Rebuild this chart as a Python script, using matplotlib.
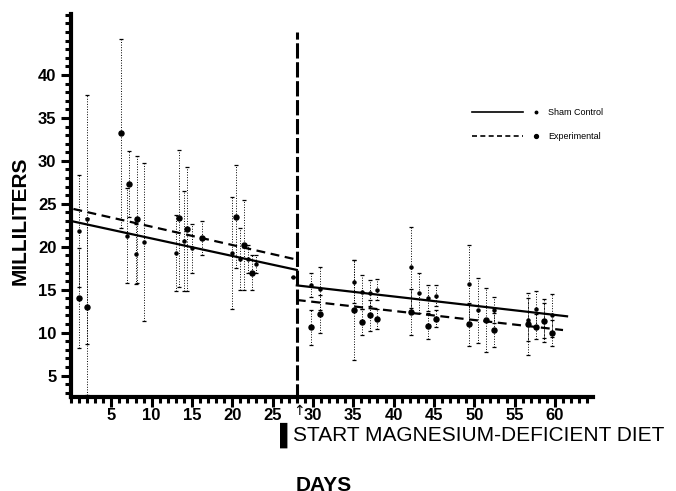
import numpy as np
import matplotlib.pyplot as plt
from matplotlib.ticker import MultipleLocator, FixedLocator

plt.rcParams['font.family'] = ['Liberation Sans', 'DejaVu Sans']

# sham control (small dots, solid fit)
ctrl_days = [1, 2, 7, 8, 9, 13, 14, 15, 20, 21, 22, 23, 27.5,
             29.8, 30.9, 35.1, 36.1, 37.1, 38.0, 42.2, 43.2, 44.3, 45.3,
             49.3, 50.4, 52.5, 56.7, 57.7, 58.7, 59.6]
ctrl_mean = [21.8, 23.2, 21.3, 19.2, 20.6, 19.3, 20.7, 19.8, 19.3, 18.6, 18.6, 18.0, 16.5,
             15.5, 15.1, 15.9, 14.7, 14.6, 15.0, 17.6, 14.6, 14.0, 14.3,
             15.7, 12.6, 12.6, 11.5, 12.7, 11.4, 12.0]
ctrl_err = [6.5, 14.5, 5.5, 3.5, 9.2, 4.4, 5.8, 2.9, 6.5, 3.6, 1.6, 1.0, 0.0,
            1.4, 2.5, 2.5, 2.0, 1.5, 1.2, 4.7, 2.3, 1.5, 1.2,
            4.5, 3.8, 1.5, 2.5, 2.2, 2.0, 2.5]

# experimental (larger dots, dashed fit)
exp_days = [1, 2, 6.2, 7.2, 8.2, 13.4, 14.4, 16.3, 20.5, 21.4, 22.4,
            29.8, 30.9, 35.1, 36.1, 37.1, 38.0, 42.2, 44.3, 45.3,
            49.3, 51.4, 52.5, 56.7, 57.7, 58.7, 59.6]
exp_mean = [14.0, 13.0, 33.2, 27.3, 23.2, 23.3, 22.1, 21.0, 23.5, 20.2, 17.0,
            10.6, 12.2, 12.6, 11.2, 12.0, 11.6, 12.4, 10.8, 11.6,
            11.0, 11.5, 10.3, 11.0, 10.7, 11.4, 10.0]
exp_err = [5.8, 10.3, 11.0, 3.8, 7.4, 8.0, 7.2, 2.0, 6.0, 5.2, 2.0,
           2.0, 2.2, 5.8, 1.5, 1.8, 1.2, 2.7, 1.5, 1.0,
           2.5, 3.7, 2.0, 3.6, 1.5, 2.5, 1.5]

# fitted lines, before and after diet start
ctrl_fit_x = [[0, 28], [28, 61.5]]
ctrl_fit_y = [[23.0, 17.3], [15.5, 11.9]]
exp_fit_x = [[0.3, 28], [28, 61]]
exp_fit_y = [[24.4, 18.5], [13.8, 10.3]]

diet_start = 28

fig = plt.figure(figsize=(6.76, 4.91), dpi=100)
ax = fig.add_axes([0.105, 0.1914, 0.772, 0.78])

for d, m, e, ms in [(ctrl_days, ctrl_mean, ctrl_err, 2.2), (exp_days, exp_mean, exp_err, 3.6)]:
    eb = ax.errorbar(d, m, yerr=e, fmt='o', color='black', ms=ms,
                     elinewidth=0.7, capsize=1.5, capthick=0.9)
    eb[2][0].set_linestyle(':')

for xs, ys in zip(ctrl_fit_x, ctrl_fit_y):
    ax.plot(xs, ys, color='black', lw=1.6)
for xs, ys in zip(exp_fit_x, exp_fit_y):
    ax.plot(xs, ys, color='black', lw=1.6, ls=(0, (4, 2.5)))

ax.plot([diet_start, diet_start], [0, 45], color='black', lw=2.2, ls=(0, (5, 1.2)))

ax.set_xlim(0, 64.7)
ax.set_ylim(2.5, 47.1)
for s in ['top', 'right']:
    ax.spines[s].set_visible(False)
for s in ['left', 'bottom']:
    ax.spines[s].set_linewidth(3)

ax.xaxis.set_major_locator(FixedLocator(range(5, 61, 5)))
ax.xaxis.set_minor_locator(MultipleLocator(1))
ax.yaxis.set_major_locator(FixedLocator(range(5, 41, 5)))
ax.yaxis.set_minor_locator(MultipleLocator(1))
ax.tick_params(which='major', direction='out', length=7, width=2.2)
ax.tick_params(which='minor', direction='out', length=4.5, width=2.2)
ax.tick_params(axis='both', labelsize=12)
ax.tick_params(axis='x', pad=1)
for lab in ax.get_xticklabels() + ax.get_yticklabels():
    lab.set_fontweight('bold')

# legend drawn by hand
ax.plot([0.768, 0.866], [0.743, 0.743], transform=ax.transAxes, color='black', lw=1.2)
ax.plot([0.891], [0.743], 'o', ms=1.8, color='black', transform=ax.transAxes)
ax.text(0.914, 0.743, 'Sham Control', transform=ax.transAxes, fontsize=6.5, va='center')
ax.plot([0.768, 0.866], [0.681, 0.681], transform=ax.transAxes, color='black', lw=1.2, ls=(0, (3, 2)))
ax.plot([0.891], [0.681], 'o', ms=2.8, color='black', transform=ax.transAxes)
ax.text(0.914, 0.681, 'Experimental', transform=ax.transAxes, fontsize=6.5, va='center')

fig.text(0.03, 0.55, 'MILLILITERS', rotation=90, fontsize=15, fontweight='bold',
         ha='center', va='center')
fig.text(0.4425, 0.163, '\u2191', fontsize=10, ha='center', va='center',
         family=['DejaVu Sans'])
fig.text(0.425, 0.114, '\u258c', fontsize=15, ha='center', va='center')
fig.text(0.434, 0.114, 'START MAGNESIUM-DEFICIENT DIET', fontsize=15, ha='left', va='center')
fig.text(0.437, 0.012, 'DAYS', fontsize=15, fontweight='bold', ha='left', va='center')

fig.savefig('out.png', dpi=100)
